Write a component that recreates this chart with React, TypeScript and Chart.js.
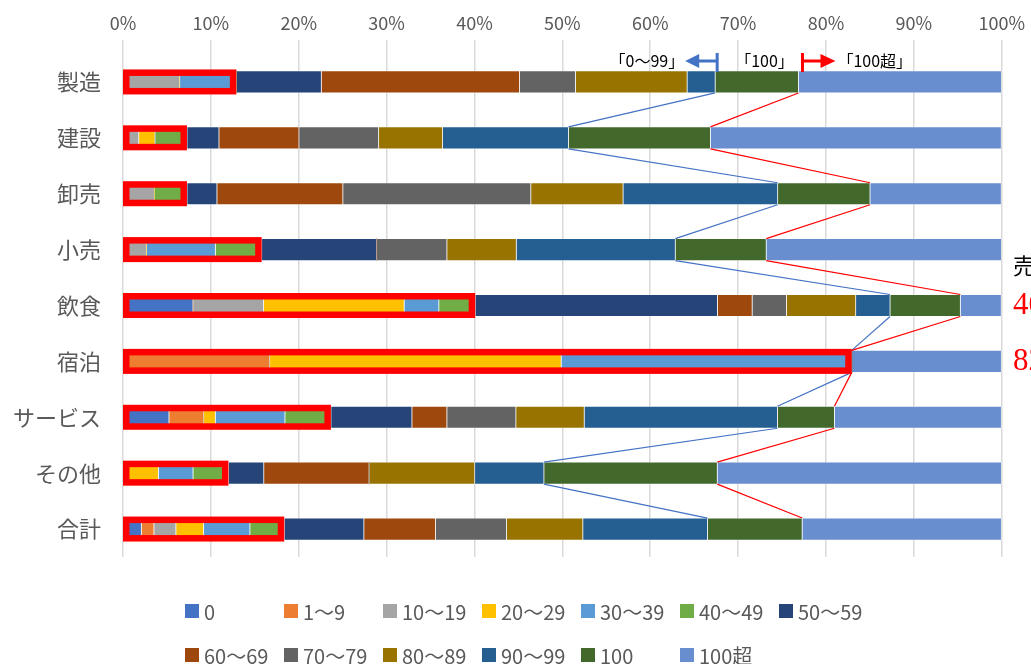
import React, { useEffect, useRef } from 'react';
import { Chart, registerables } from 'chart.js';

Chart.register(...registerables);

// ---- data ----
const categories = ['製造', '建設', '卸売', '小売', '飲食', '宿泊', 'サービス', 'その他', '合計'];
const seriesNames = ['0', '1～9', '10～19', '20～29', '30～39', '40～49', '50～59', '60～69', '70～79', '80～89', '90～99', '100', '100超'];
const seriesColors = ['#4472C4', '#ED7D31', '#A5A5A5', '#FFC000', '#5B9BD5', '#70AD47', '#264478', '#9E480E', '#636363', '#997300', '#255E91', '#43682B', '#698ED0'];

const s0 = [0, 0, 0, 0, 7.96, 0, 5.23, 0, 2.09];
const s1to9 = [0, 0, 0, 0, 0, 16.69, 3.95, 0, 1.43];
const s10to19 = [6.45, 1.79, 3.57, 2.66, 8.04, 0, 0, 0, 2.5];
const s20to29 = [0, 1.85, 0, 0, 16.0, 33.18, 1.33, 4.03, 3.15];
const s30to39 = [6.45, 0, 0, 7.85, 3.94, 33.06, 7.92, 3.94, 5.27];
const s40to49 = [0, 3.64, 3.71, 5.27, 4.14, 0, 5.23, 4.03, 3.91];
const s50to59 = [9.67, 3.64, 3.41, 13.08, 27.57, 0, 9.22, 4.02, 9.06];
const s60to69 = [22.56, 9.1, 14.33, 0, 3.95, 0, 3.98, 11.98, 8.16];
const s70to79 = [6.37, 9.07, 21.39, 8.0, 3.9, 0, 7.85, 0, 8.08];
const s80to89 = [12.7, 7.28, 10.5, 7.9, 7.88, 0, 7.78, 12.02, 8.68];
const s90to99 = [3.19, 14.33, 17.59, 18.09, 3.91, 0, 21.99, 7.88, 14.19];
const s100 = [9.48, 16.15, 10.51, 10.35, 8.0, 0, 6.48, 19.73, 10.77];
const s100plus = [23.1, 33.1, 14.94, 26.77, 4.66, 17.03, 19.0, 32.34, 22.67];

const seriesValues = [s0, s1to9, s10to19, s20to29, s30to39, s40to49, s50to59, s60to69, s70to79, s80to89, s90to99, s100, s100plus];

const xTickValues = [0, 10, 20, 30, 40, 50, 60, 70, 80, 90, 100];

const annotationTexts = ['「0～99」', '「100」', '「100超」'];
const sideHeader = '売上構成比';
const highlightRows = [4, 5]; // 飲食, 宿泊

const JP = '"Noto Sans CJK JP", "Noto Sans", sans-serif';
const TEXT_GRAY = '#595959';
const BAR = 22;

function cum(row: number, upto: number) {
  let s = 0;
  for (let k = 0; k <= upto; k++) s += seriesValues[k][row];
  return s;
}

export default function App() {
  const ref = useRef<HTMLCanvasElement>(null);

  useEffect(() => {
    const canvas = ref.current;
    if (!canvas) return;

    const overlay = {
      id: 'overlay',
      afterDatasetsDraw(chart: any) {
        const ctx = chart.ctx;
        const xs = chart.scales.x;
        const ys = chart.scales.y;
        ctx.save();
        // connector lines
        for (let i = 0; i < categories.length - 1; i++) {
          const y1 = ys.getPixelForValue(i) + BAR / 2;
          const y2 = ys.getPixelForValue(i + 1) - BAR / 2;
          const specs: [number, string][] = [[10, '#4472C4'], [11, '#FF0000']];
          specs.forEach(([k, c]) => {
            ctx.beginPath();
            ctx.strokeStyle = c;
            ctx.lineWidth = 1.2;
            ctx.moveTo(xs.getPixelForValue(cum(i, k)), y1);
            ctx.lineTo(xs.getPixelForValue(cum(i + 1, k)), y2);
            ctx.stroke();
          });
        }
        // red boxes around 0-49
        const lw = 6.5;
        const h = 25;
        for (let i = 0; i < categories.length; i++) {
          const yc = ys.getPixelForValue(i);
          const x0 = xs.getPixelForValue(0);
          const x1 = xs.getPixelForValue(cum(i, 5));
          ctx.strokeStyle = '#FF0000';
          ctx.lineWidth = lw;
          ctx.strokeRect(x0 + lw / 2, yc - h / 2 + lw / 2, x1 - x0 - lw, h - lw);
        }
        ctx.restore();
      },
      afterDraw(chart: any) {
        const ctx = chart.ctx;
        const xs = chart.scales.x;
        const ys = chart.scales.y;
        ctx.save();
        // legend
        const colX0 = 185;
        const colW = 99;
        const rowY = [611, 655];
        ctx.font = `20px ${JP}`;
        ctx.textBaseline = 'middle';
        ctx.textAlign = 'left';
        seriesNames.forEach((name, idx) => {
          const r = idx < 7 ? 0 : 1;
          const c = idx < 7 ? idx : idx - 7;
          const x = colX0 + c * colW;
          const y = rowY[r];
          ctx.fillStyle = seriesColors[idx];
          ctx.fillRect(x, y - 7, 14, 14);
          ctx.fillStyle = TEXT_GRAY;
          ctx.fillText(name, x + 19, y + 1);
        });

        // top annotations
        const blueX = xs.getPixelForValue(cum(0, 10)) + 2;
        const redX = xs.getPixelForValue(cum(0, 11)) + 4;
        const ay = 61;
        ctx.fillStyle = '#000';
        ctx.font = `16px ${JP}`;
        ctx.textAlign = 'right';
        ctx.fillText(annotationTexts[0], blueX - 33, ay);
        ctx.textAlign = 'left';
        ctx.fillText(annotationTexts[1], blueX + 18, ay);
        ctx.fillText(annotationTexts[2], redX + 35, ay);

        // blue arrow
        ctx.strokeStyle = '#4472C4';
        ctx.fillStyle = '#4472C4';
        ctx.lineWidth = 3;
        ctx.beginPath();
        ctx.moveTo(blueX, 53);
        ctx.lineTo(blueX, 72);
        ctx.moveTo(blueX, ay);
        ctx.lineTo(blueX - 20, ay);
        ctx.stroke();
        ctx.beginPath();
        ctx.moveTo(blueX - 32, ay);
        ctx.lineTo(blueX - 18, ay - 7);
        ctx.lineTo(blueX - 18, ay + 7);
        ctx.closePath();
        ctx.fill();

        // red arrow
        ctx.strokeStyle = '#FF0000';
        ctx.fillStyle = '#FF0000';
        ctx.beginPath();
        ctx.moveTo(redX, 53);
        ctx.lineTo(redX, 72);
        ctx.moveTo(redX, ay);
        ctx.lineTo(redX + 20, ay);
        ctx.stroke();
        ctx.beginPath();
        ctx.moveTo(redX + 33, ay);
        ctx.lineTo(redX + 18, ay - 7);
        ctx.lineTo(redX + 18, ay + 7);
        ctx.closePath();
        ctx.fill();

        // right-side texts (clipped at canvas edge)
        ctx.textAlign = 'left';
        ctx.textBaseline = 'middle';
        ctx.fillStyle = '#000';
        ctx.font = `22px ${JP}`;
        ctx.fillText(sideHeader, 1013, 266);
        ctx.fillStyle = '#FF0000';
        ctx.font = '31px "Liberation Serif", serif';
        highlightRows.forEach((r) => {
          const v = cum(r, 5);
          ctx.fillText(v.toFixed(1) + '%', 1013, ys.getPixelForValue(r));
        });
        ctx.restore();
      },
    };

    const chart = new Chart(canvas, {
      type: 'bar',
      data: {
        labels: categories,
        datasets: seriesValues.map((vals, i) => ({
          label: seriesNames[i],
          data: vals,
          backgroundColor: seriesColors[i],
          borderColor: 'rgba(255,255,255,0.4)',
          borderWidth: (c: any) => (c.raw > 0 ? 0.75 : 0),
          borderSkipped: false,
          barThickness: BAR,
        })),
      },
      options: {
        indexAxis: 'y',
        responsive: false,
        animation: false,
        devicePixelRatio: 1,
        layout: { padding: { left: 0, right: 29, top: 0, bottom: 107 } },
        plugins: {
          legend: { display: false },
          tooltip: { enabled: false },
        },
        scales: {
          x: {
            position: 'top',
            stacked: true,
            min: 0,
            max: 100,
            afterFit: (s: any) => { s.height = 54; },
            afterBuildTicks: (s: any) => { s.ticks = xTickValues.map((v) => ({ value: v })); },
            ticks: {
              callback: (v: any) => v + '%',
              color: TEXT_GRAY,
              font: { size: 18, family: JP },
              padding: 6,
              maxRotation: 0,
            },
            grid: { color: '#D9D9D9', lineWidth: 1.5, drawTicks: true, tickLength: 14, tickColor: '#D9D9D9' },
            border: { display: false },
          },
          y: {
            stacked: true,
            afterFit: (s: any) => { s.width = 123; },
            ticks: {
              color: TEXT_GRAY,
              font: { size: 22, family: JP },
              padding: 22,
            },
            grid: { display: false, drawTicks: false },
            border: { display: false },
          },
        },
      },
      plugins: [overlay],
    } as any);

    return () => chart.destroy();
  }, []);

  return (
    <div style={{ position: 'absolute', left: 0, top: 0, width: 1031, height: 664, background: '#fff' }}>
      <canvas ref={ref} width={1031} height={664} />
    </div>
  );
}
